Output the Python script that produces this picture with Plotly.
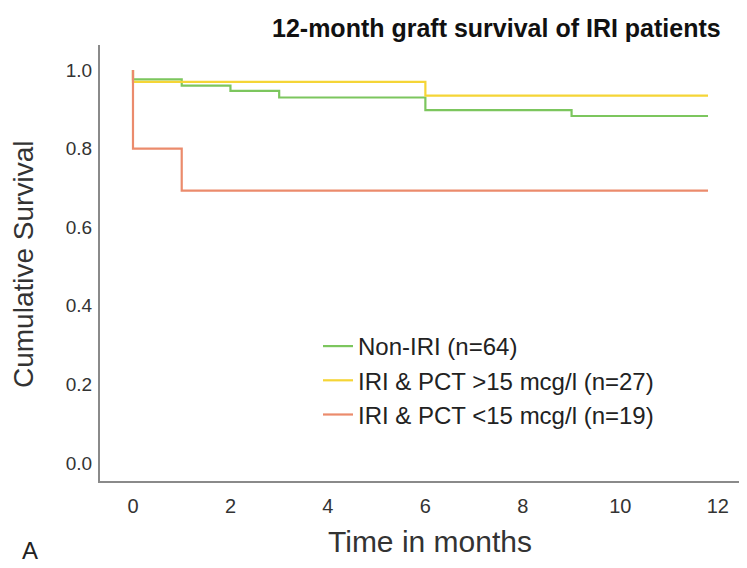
import plotly.graph_objects as go

# Kaplan-Meier step data (time in months, cumulative survival)
non_iri_t = [0, 0, 1, 2, 3, 6, 9, 11.8]
non_iri_s = [1.0, 0.976, 0.960, 0.947, 0.930, 0.898, 0.883, 0.883]

pct_high_t = [0, 0, 6, 11.8]
pct_high_s = [1.0, 0.970, 0.935, 0.935]

pct_low_t = [0, 0, 1, 11.8]
pct_low_s = [1.0, 0.80, 0.693, 0.693]

names = ["Non-IRI (n=64)", "IRI & PCT >15 mcg/l (n=27)", "IRI & PCT <15 mcg/l (n=19)"]
colors = ["#7cc65e", "#f5d536", "#eb8b6c"]

x_ticks = [0, 2, 4, 6, 8, 10, 12]
y_ticks = [0.0, 0.2, 0.4, 0.6, 0.8, 1.0]

# page body has an 8px margin; work in reference pixel coords and shift
OFF = 8
W, H = 747 - OFF, 568 - OFF
L, R, T, B = 100 - OFF, 0, 45 - OFF, 568 - 481
pw, ph = W - L - R, H - T - B
def px(x): return (x - OFF - L) / pw
def py(y): return (H - B - (y - OFF)) / ph

fig = go.Figure()
for t, s, n, c in zip([non_iri_t, pct_high_t, pct_low_t],
                      [non_iri_s, pct_high_s, pct_low_s], names, colors):
    fig.add_trace(go.Scatter(x=t, y=s, mode="lines", name=n,
                             line=dict(color=c, width=2.2, shape="hv")))

font_main = "Liberation Sans, Arial, sans-serif"
fig.update_layout(
    width=W, height=H,
    margin=dict(l=L, r=R, t=T, b=B),
    plot_bgcolor="white", paper_bgcolor="white",
    font=dict(family=font_main, color="#222"),
    showlegend=True,
    legend=dict(x=px(318), y=py(324), xanchor="left", yanchor="top",
                font=dict(size=24, color="#222"), bgcolor="rgba(0,0,0,0)",
                tracegroupgap=0, itemwidth=30),
    xaxis=dict(range=[-0.677, 12.6], tickvals=x_ticks, ticktext=[str(v) for v in x_ticks],
               showgrid=False, zeroline=False, showline=True, linecolor="#8a8a8a", linewidth=2,
               ticks="outside", ticklen=6, tickcolor="rgba(0,0,0,0)", automargin=False,
               tickfont=dict(size=20, color="#333")),
    yaxis=dict(range=[-0.0458, 1.0636], tickvals=y_ticks, ticktext=[f"{v:.1f}" for v in y_ticks],
               showgrid=False, zeroline=False, showline=True, linecolor="#8a8a8a", linewidth=2,
               ticks="outside", ticklen=2, tickcolor="rgba(0,0,0,0)", automargin=False,
               tickfont=dict(size=19, color="#333")),
)
def ann(text, x, y, size, color, angle=0):
    fig.add_annotation(text=text, x=px(x), y=py(y), xref="paper", yref="paper",
                       xanchor="center", yanchor="middle", showarrow=False,
                       textangle=angle, font=dict(size=size, color=color))

ann("<b>12-month graft survival of IRI patients</b>", 496, 28, 25, "#111")
ann("Cumulative Survival", 23, 265, 28, "#333", -90)
ann("Time in months", 430, 541, 30, "#333")
ann("A", 30, 550, 24, "#222")

fig.write_html("out.html")
